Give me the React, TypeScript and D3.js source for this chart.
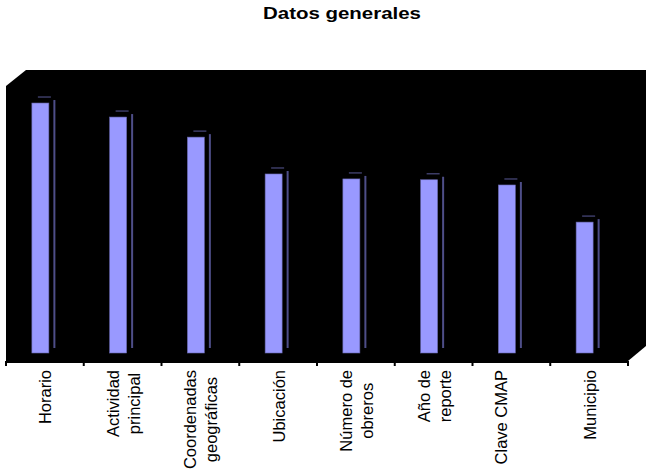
import * as d3 from 'd3';
import React, { useEffect, useRef } from 'react';

const title = "Datos generales";
const categories = ["Horario", "Actividad principal", "Coordenadas geográficas", "Ubicación", "Número de obreros", "Año de reporte", "Clave CMAP", "Municipio"];
// wrapped tick labels as they appear under the axis
const tickLabels = [["Horario"], ["Actividad", "principal"], ["Coordenadas", "geográficas"], ["Ubicación"], ["Número de", "obreros"], ["Año de", "reporte"], ["Clave CMAP", ""], ["Municipio"]];
const values = [90.9, 85.8, 78.5, 65.1, 63.3, 63.0, 61.1, 47.6];

const W = 646;
const H = 473;

const App = () => {
    const svgRef = useRef(null);

    useEffect(() => {
        const svg = d3.select(svgRef.current);
        svg.selectAll("*").remove();

        const front = { left: 6, right: 628, top: 86, bottom: 361 };
        const depth = { dx: 20, dy: -16 };
        const barW = 17;
        const shift = -4.5; // bars sit halfway into the floor
        const cap = 6;      // 3d offset of bar top / side

        const x = d3.scaleBand().domain(categories).range([front.left, front.right]);
        const y = d3.scaleLinear().domain([0, 100]).range([353, 78]);

        // title
        svg.append("text")
            .attr("x", 342)
            .attr("y", 19)
            .attr("text-anchor", "middle")
            .attr("font-family", "Liberation Sans, Arial, sans-serif")
            .attr("font-weight", "bold")
            .attr("font-size", 17)
            .attr("textLength", 158)
            .attr("lengthAdjust", "spacingAndGlyphs")
            .text(title);

        // black 3d box (back wall + floor + side wall)
        const pts = [
            [front.left, front.top],
            [front.left + depth.dx, front.top + depth.dy],
            [front.right + depth.dx - 2, front.top + depth.dy],
            [front.right + depth.dx - 2, front.bottom + depth.dy + 1],
            [front.right, front.bottom],
            [front.left, front.bottom]
        ];
        svg.append("polygon")
            .attr("points", pts.map(p => p.join(",")).join(" "))
            .attr("fill", "#000");

        // bars
        const g = svg.append("g");
        categories.forEach((c, i) => {
            const x0 = x(c) + (x.bandwidth() - barW) / 2 + shift;
            const x1 = x0 + barW;
            const yt = y(values[i]);
            const yb = y(0);
            g.append("rect")
                .attr("x", x0)
                .attr("y", yt)
                .attr("width", barW)
                .attr("height", yb - yt)
                .attr("fill", "#9999ff")
                .attr("stroke", "#6666aa")
                .attr("stroke-width", 0.6);
            g.append("line")
                .attr("x1", x1 + cap - 0.5).attr("x2", x1 + cap - 0.5)
                .attr("y1", yt - cap + 3).attr("y2", yb - 5)
                .attr("stroke", "#4e4e88")
                .attr("stroke-width", 2);
            g.append("line")
                .attr("x1", x0 + cap).attr("x2", x1 + 2)
                .attr("y1", yt - cap).attr("y2", yt - cap)
                .attr("stroke", "#3c3c66")
                .attr("stroke-width", 1.5);
        });

        // category axis
        svg.append("line")
            .attr("x1", front.left).attr("x2", front.right)
            .attr("y1", front.bottom + 1).attr("y2", front.bottom + 1)
            .attr("stroke", "#000")
            .attr("stroke-width", 2);
        const ticks = d3.range(categories.length + 1).map(i => front.left + i * x.step());
        svg.append("g").selectAll("line")
            .data(ticks)
            .join("line")
            .attr("x1", d => d).attr("x2", d => d)
            .attr("y1", front.bottom).attr("y2", front.bottom + 5)
            .attr("stroke", "#000")
            .attr("stroke-width", 2);

        // rotated tick labels, block top-aligned below the axis
        const lineGap = 21;
        const labelTop = 370;
        categories.forEach((c, i) => {
            const lines = tickLabels[i];
            const cx = x(c) + x.bandwidth() / 2;
            const lg = svg.append("g");
            const texts = lines.map((ln, j) => {
                const bx = cx - (lines.length - 1) * lineGap / 2 + j * lineGap + 6.5;
                return lg.append("text")
                    .attr("font-family", "Liberation Sans, Arial, sans-serif")
                    .attr("font-size", 16.5)
                    .attr("text-anchor", "middle")
                    .attr("data-bx", bx)
                    .text(ln);
            });
            const maxW = d3.max(texts, t => t.node().getComputedTextLength()) || 0;
            const cy = labelTop + maxW / 2;
            texts.forEach(t => {
                t.attr("transform", `translate(${t.attr("data-bx")},${cy}) rotate(-90)`);
            });
        });
    }, []);

    return (
        <svg ref={svgRef} width={W} height={H}
            style={{ position: "absolute", left: 0, top: 0, background: "#fff" }} />
    );
};

export default App;
